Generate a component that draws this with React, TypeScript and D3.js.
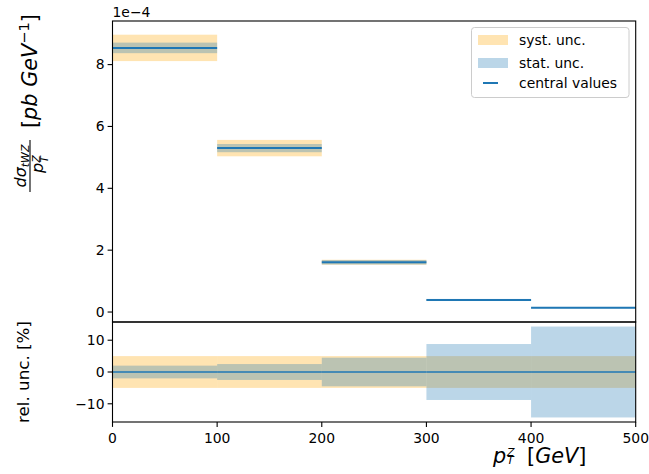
import * as d3 from "d3";
import { useEffect, useRef } from "react";

// bins in pT^Z [GeV]
const binEdges = [0, 100, 200, 300, 400, 500];
// central values of the cross section, in units of 1e-4 pb/GeV
const centralValues = [8.54, 5.3, 1.61, 0.39, 0.14];
// relative uncertainties in percent
const statUnc = [2.0, 2.5, 4.5, 8.8, 14.3];
const systUnc = [5.0, 5.0, 5.0, 5.0, 5.0];
// tick labels
const xTicks = [0, 100, 200, 300, 400, 500];
const topTicks = [0, 2, 4, 6, 8];
const ratioTicks = [-10, 0, 10];
const legendLabels = ["syst. unc.", "stat. unc.", "central values"];

const W = 649;
const H = 474;
const FONT = "DejaVu Sans, sans-serif";
const BLUE = "#1f77b4";
const ORANGE = "#ffa500";
const minus = (v: number) => (v < 0 ? "\u2212" + Math.abs(v) : String(v));

const redraw = (ref: any) => {
  const svg = d3.select(ref.current);
  svg.selectAll("*").remove();

  const left = 112.5, right = 635.7;
  const topY0 = 21, topY1 = 322, botY1 = 422;

  const bins = centralValues.map((v, i) => ({
    x0: binEdges[i], x1: binEdges[i + 1], v, stat: statUnc[i], syst: systUnc[i],
  }));

  const x = d3.scaleLinear().domain([0, 500]).range([left, right]);

  // top panel domain: data extent + 5% margin (matplotlib style)
  const lo = d3.min(bins, (d) => d.v * (1 - Math.max(d.stat, d.syst) / 100))!;
  const hi = d3.max(bins, (d) => d.v * (1 + Math.max(d.stat, d.syst) / 100))!;
  const pad = (hi - lo) * 0.05;
  const y = d3.scaleLinear().domain([lo - pad, hi + pad]).range([topY1, topY0]);

  const rmax = d3.max(bins, (d) => Math.max(d.stat, d.syst))!;
  const yr = d3.scaleLinear().domain([-rmax * 1.1, rmax * 1.1]).range([botY1, topY1]);

  const g = svg.append("g");

  // top panel bands
  g.selectAll(".syst").data(bins).enter().append("rect")
    .attr("x", (d) => x(d.x0)).attr("width", (d) => x(d.x1) - x(d.x0))
    .attr("y", (d) => y(d.v * (1 + d.syst / 100)))
    .attr("height", (d) => y(d.v * (1 - d.syst / 100)) - y(d.v * (1 + d.syst / 100)))
    .attr("fill", ORANGE).attr("fill-opacity", 0.3);
  g.selectAll(".stat").data(bins).enter().append("rect")
    .attr("x", (d) => x(d.x0)).attr("width", (d) => x(d.x1) - x(d.x0))
    .attr("y", (d) => y(d.v * (1 + d.stat / 100)))
    .attr("height", (d) => y(d.v * (1 - d.stat / 100)) - y(d.v * (1 + d.stat / 100)))
    .attr("fill", BLUE).attr("fill-opacity", 0.3);
  g.selectAll(".cv").data(bins).enter().append("line")
    .attr("x1", (d) => x(d.x0)).attr("x2", (d) => x(d.x1))
    .attr("y1", (d) => y(d.v)).attr("y2", (d) => y(d.v))
    .attr("stroke", BLUE).attr("stroke-width", 2);

  // ratio panel bands
  g.selectAll(".rsyst").data(bins).enter().append("rect")
    .attr("x", (d) => x(d.x0)).attr("width", (d) => x(d.x1) - x(d.x0))
    .attr("y", (d) => yr(d.syst)).attr("height", (d) => yr(-d.syst) - yr(d.syst))
    .attr("fill", ORANGE).attr("fill-opacity", 0.3);
  g.selectAll(".rstat").data(bins).enter().append("rect")
    .attr("x", (d) => x(d.x0)).attr("width", (d) => x(d.x1) - x(d.x0))
    .attr("y", (d) => yr(d.stat)).attr("height", (d) => yr(-d.stat) - yr(d.stat))
    .attr("fill", BLUE).attr("fill-opacity", 0.3);
  g.selectAll(".rcv").data(bins).enter().append("line")
    .attr("x1", (d) => x(d.x0)).attr("x2", (d) => x(d.x1))
    .attr("y1", yr(0)).attr("y2", yr(0))
    .attr("stroke", BLUE).attr("stroke-width", 1.5);

  // spines
  const sp = g.append("g").attr("fill", "none").attr("stroke", "#000").attr("stroke-width", 1.1);
  sp.append("rect").attr("x", left).attr("y", topY0).attr("width", right - left).attr("height", topY1 - topY0);
  sp.append("rect").attr("x", left).attr("y", topY1).attr("width", right - left).attr("height", botY1 - topY1);

  // y ticks top
  const yt = g.selectAll(".yt").data(topTicks).enter().append("g")
    .attr("transform", (d) => `translate(${left},${y(d)})`);
  yt.append("line").attr("x1", -4.9).attr("x2", 0).attr("stroke", "#000").attr("stroke-width", 1.1);
  yt.append("text").attr("x", -8).attr("dy", "0.35em").attr("text-anchor", "end")
    .attr("font-family", FONT).attr("font-size", 13.9).text((d) => minus(d));

  // y ticks ratio
  const rt = g.selectAll(".rt").data(ratioTicks).enter().append("g")
    .attr("transform", (d) => `translate(${left},${yr(d)})`);
  rt.append("line").attr("x1", -4.9).attr("x2", 0).attr("stroke", "#000").attr("stroke-width", 1.1);
  rt.append("text").attr("x", -8).attr("dy", "0.35em").attr("text-anchor", "end")
    .attr("font-family", FONT).attr("font-size", 13.9).text((d) => minus(d));

  // x ticks
  const xt = g.selectAll(".xt").data(xTicks).enter().append("g")
    .attr("transform", (d) => `translate(${x(d)},${botY1})`);
  xt.append("line").attr("y1", 0).attr("y2", 4.9).attr("stroke", "#000").attr("stroke-width", 1.1);
  xt.append("text").attr("y", 21).attr("text-anchor", "middle")
    .attr("font-family", FONT).attr("font-size", 13.9).text((d) => d);

  // offset text
  g.append("text").attr("x", left).attr("y", 17).attr("font-family", FONT).attr("font-size", 13.9)
    .text("1e\u22124");

  // y label top (rotated)
  const yl = g.append("g").attr("transform", "translate(37,192) rotate(-90)")
    .attr("font-family", FONT);
  const num = yl.append("text").attr("x", 26).attr("y", -11).attr("text-anchor", "middle")
    .attr("font-size", 16).attr("font-style", "italic");
  num.append("tspan").text("d\u03c3");
  num.append("tspan").attr("font-size", 11).attr("dy", 2.5).text("tWZ");
  yl.append("line").attr("x1", 0).attr("x2", 52).attr("y1", -7).attr("y2", -7)
    .attr("stroke", "#000").attr("stroke-width", 1.1);
  yl.append("text").attr("x", 19).attr("y", 6).attr("font-size", 16).attr("font-style", "italic").text("p");
  yl.append("text").attr("x", 29.5).attr("y", 3).attr("font-size", 10.5).attr("font-style", "italic").text("Z");
  yl.append("text").attr("x", 29.5).attr("y", 10.5).attr("font-size", 10.5).attr("font-style", "italic").text("T");
  const unit = yl.append("text").attr("x", 64).attr("y", 0).attr("font-size", 20.8);
  unit.append("tspan").text("[");
  unit.append("tspan").attr("font-style", "italic").text("pb GeV");
  unit.append("tspan").attr("font-size", 14.5).attr("dy", -8).text("\u22121");
  unit.append("tspan").attr("dy", 8).text("]");

  // ratio y label
  g.append("text").attr("transform", `translate(29,${(topY1 + botY1) / 2}) rotate(-90)`)
    .attr("text-anchor", "middle").attr("font-family", FONT).attr("font-size", 16.7)
    .text("rel. unc. [%]");

  // x label
  const xl = g.append("g").attr("font-family", FONT);
  xl.append("text").attr("x", 493).attr("y", 463).attr("font-size", 20.8).attr("font-style", "italic").text("p");
  xl.append("text").attr("x", 507).attr("y", 455.5).attr("font-size", 11).attr("font-style", "italic").text("Z");
  xl.append("text").attr("x", 507).attr("y", 464).attr("font-size", 11).attr("font-style", "italic").text("T");
  const xu = xl.append("text").attr("x", 527).attr("y", 463).attr("font-size", 20.8);
  xu.append("tspan").text("[");
  xu.append("tspan").attr("font-style", "italic").text("GeV");
  xu.append("tspan").text("]");

  // legend
  const lg = g.append("g");
  lg.append("rect").attr("x", 471.5).attr("y", 27.5).attr("width", 157.5).attr("height", 70)
    .attr("rx", 3).attr("fill", "#fff").attr("fill-opacity", 0.8).attr("stroke", "#ccc");
  const rowY = [40, 63, 83];
  lg.append("rect").attr("x", 478).attr("y", rowY[0] - 5).attr("width", 30).attr("height", 10)
    .attr("fill", ORANGE).attr("fill-opacity", 0.3);
  lg.append("rect").attr("x", 478).attr("y", rowY[1] - 5).attr("width", 30).attr("height", 10)
    .attr("fill", BLUE).attr("fill-opacity", 0.3);
  lg.append("line").attr("x1", 483).attr("x2", 498).attr("y1", rowY[2]).attr("y2", rowY[2])
    .attr("stroke", BLUE).attr("stroke-width", 2);
  lg.selectAll(".lt").data(legendLabels).enter().append("text")
    .attr("x", 519).attr("y", (d, i) => rowY[i]).attr("dy", "0.35em")
    .attr("font-family", FONT).attr("font-size", 13.9).text((d) => d);
};

export default function App() {
  const ref = useRef(null);
  useEffect(() => {
    redraw(ref);
  }, []);
  return (
    <svg ref={ref} width={W} height={H}
      style={{ position: "absolute", left: 0, top: 0, background: "#fff" }} />
  );
}
